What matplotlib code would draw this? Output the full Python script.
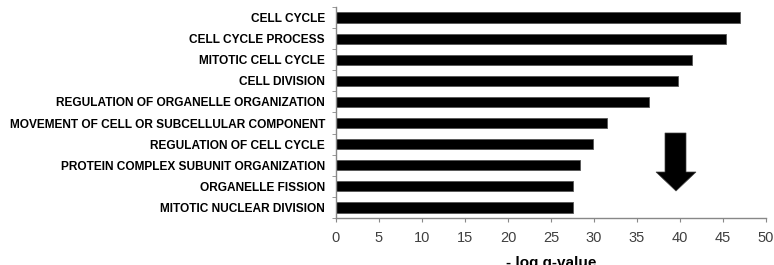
import numpy as np
import matplotlib.pyplot as plt
from matplotlib.patches import Polygon

# data
# ====
terms = ['CELL CYCLE',
         'CELL CYCLE PROCESS',
         'MITOTIC CELL CYCLE',
         'CELL DIVISION',
         'REGULATION OF ORGANELLE ORGANIZATION',
         'MOVEMENT OF CELL OR SUBCELLULAR COMPONENT',
         'REGULATION OF CELL CYCLE',
         'PROTEIN COMPLEX SUBUNIT ORGANIZATION',
         'ORGANELLE FISSION',
         'MITOTIC NUCLEAR DIVISION']
neg_log_q = [47.0, 45.4, 41.4, 39.8, 36.4, 31.5, 29.9, 28.4, 27.5, 27.5]
xticks = [0, 5, 10, 15, 20, 25, 30, 35, 40, 45, 50]

plt.rcParams['font.family'] = ['Liberation Sans', 'DejaVu Sans']

# plotting
# ========
fig = plt.figure(figsize=(7.74, 2.65), dpi=100)
ax = fig.add_axes([336/774, 1 - 218/265, 430/774, 211/265])

y = np.arange(len(terms))
ax.barh(y, neg_log_q, height=0.48, color='black', edgecolor='#555555', lw=0.6)

ax.set_ylim(len(terms) - 0.5, -0.5)
ax.set_xlim(0, 50)
ax.set_xticks(xticks)
ax.set_xticklabels([str(t) for t in xticks], fontsize=10.5, color='#404040')

# category labels without ticks, ticks at the boundaries
ax.set_yticks(y)
ax.set_yticklabels(terms, fontsize=8.6, fontweight='bold')
ax.tick_params(axis='y', length=0, pad=8)
ax.set_yticks(np.arange(-0.5, len(terms)), minor=True)
ax.tick_params(axis='y', which='minor', length=3, color='#888888', direction='out')
ax.tick_params(axis='x', length=3, color='#888888', pad=6)

for s in ['top', 'right']:
    ax.spines[s].set_visible(False)
for s in ['left', 'bottom']:
    ax.spines[s].set_color('#888888')
    ax.spines[s].set_linewidth(1)

ax.set_xlabel('- log q-value', fontsize=11, fontweight='bold', labelpad=8)

# big down arrow
arrow = Polygon([[665/774, 1 - 133/265], [686/774, 1 - 133/265],
                 [686/774, 1 - 172/265], [696/774, 1 - 172/265],
                 [676/774, 1 - 191/265], [656/774, 1 - 172/265],
                 [665/774, 1 - 172/265]],
                closed=True, transform=fig.transFigure,
                facecolor='black', edgecolor='#444444', lw=0.5)
fig.patches.append(arrow)

fig.savefig('out.png', dpi=100)
